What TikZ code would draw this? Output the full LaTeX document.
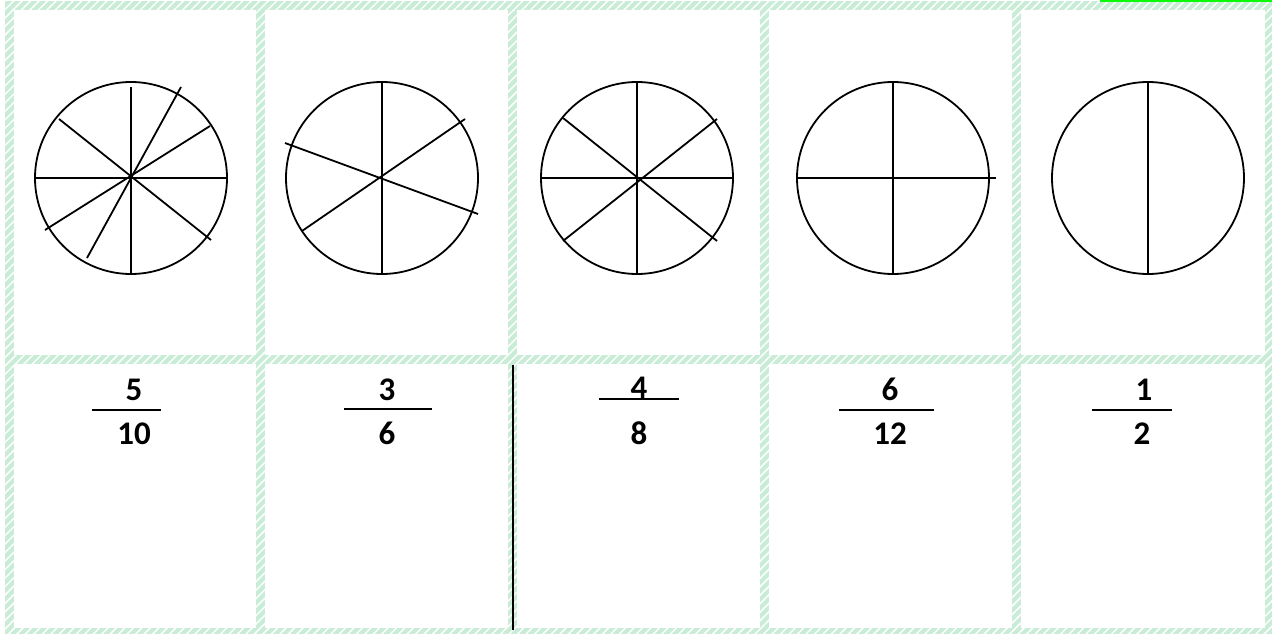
\documentclass[tikz,border=0pt]{standalone}
\usepackage{fontspec}
\setmainfont{Carlito}
\usetikzlibrary{patterns.meta}
\definecolor{mint}{RGB}{200,236,214}
\definecolor{brightgreen}{RGB}{10,250,10}
\tikzset{
  band/.style={fill=mint, postaction={pattern={Lines[angle=45,distance=6pt,line width=1.5pt]}, pattern color=white}},
  pie/.style={circle, draw, line width=1.8pt, minimum size=192pt, inner sep=0pt},
  spoke/.style={line width=1.8pt},
  num/.style={anchor=base, inner sep=0pt, font=\fontsize{33}{36}\selectfont\bfseries},
  bar/.style={line width=2pt}
}
\begin{document}
\begin{tikzpicture}[x=1pt,y=-1pt]
\useasboundingbox (0,0) rectangle (1272,634);
\fill[white] (0,0) rectangle (1272,634);
% hatched grid bands
\path[band] (5,1) rectangle (1272,10);
\path[band] (5,355) rectangle (1272,364);
\path[band] (5,628) rectangle (1272,634);
\foreach \x in {5,256,508,760,1012} {
  \path[band] (\x,1) rectangle (\x+9,634);
}
\path[band] (1265,1) rectangle (1272,634);
\fill[brightgreen] (1100,0) rectangle (1272,2);
% circles
\node[pie] (c1) at (131,178) {};
\node[pie] (c2) at (382,178) {};
\node[pie] (c3) at (637,178) {};
\node[pie] (c4) at (893,178) {};
\node[pie] (c5) at (1148,178) {};
% circle 1 (10 parts)
\draw[spoke] (131,87) -- (c1.south);
\draw[spoke] (c1.west) -- (c1.east);
\draw[spoke] (181,87) -- (87,258);
\draw[spoke] (210,126) -- (45,230);
\draw[spoke] (59,119) -- (211,240);
% circle 2 (6 parts)
\draw[spoke] (c2.north) -- (c2.south);
\draw[spoke] (285,143) -- (478,214);
\draw[spoke] (465,119) -- (302,231);
% circle 3 (8 parts)
\draw[spoke] (c3.north) -- (c3.south);
\draw[spoke] (c3.west) -- (c3.east);
\draw[spoke] (563,118) -- (717,241);
\draw[spoke] (717,119) -- (563,241);
% circle 4 (4 parts)
\draw[spoke] (c4.north) -- (c4.south);
\draw[spoke] (c4.west) -- (996,178);
% circle 5 (2 parts)
\draw[spoke] (c5.north) -- (c5.south);
% black divider
\coordinate (dtop) at (513,365);
\coordinate (dbot) at (513,630);
\draw[line width=2pt] (dtop) -- (dbot);
% fractions
\node[num] (n1) at (134,400) {5};
\node[num] (d1) at (134,444) {10};
\draw[bar] (92,410) -- (161,410);
\node[num] (n2) at (387,400) {3};
\node[num] (d2) at (387,444) {6};
\draw[bar] (344,409) -- (432,409);
\node[num] (n3) at (639,398) {4};
\node[num] (d3) at (639,444) {8};
\draw[bar] (599,399) -- (679,399);
\node[num] (n4) at (890,400) {6};
\node[num] (d4) at (890,444) {12};
\draw[bar] (839,410) -- (934,410);
\node[num] (n5) at (1144,400) {1};
\node[num] (d5) at (1142,444) {2};
\draw[bar] (1092,410) -- (1172,410);
\end{tikzpicture}
\end{document}
